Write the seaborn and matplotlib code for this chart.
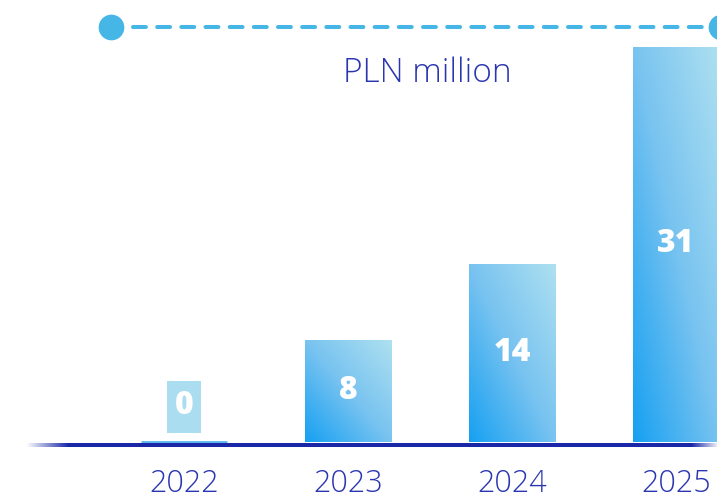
import numpy as np
import pandas as pd
import matplotlib
matplotlib.use("Agg")
import matplotlib.pyplot as plt
from matplotlib.colors import LinearSegmentedColormap, to_rgb
from matplotlib.patches import Rectangle
import seaborn as sns

# Chart data
years = ["2022", "2023", "2024", "2025"]
values = [0, 8, 14, 31]
unit_label = "PLN million"

sns.set_theme(style="white")
plt.rcParams["font.family"] = ["Open Sans", "DejaVu Sans"]

BAR_LOW = "#16A0F2"
BAR_MID = "#78C3F0"
BAR_HIGH = "#AEE0F0"
LINE_DARK = "#1A28A8"
ACCENT = "#45B6E6"
TEXT_BLUE = "#2A36B0"

bar_cmap = LinearSegmentedColormap.from_list(
    "bar_grad", [(0.0, BAR_LOW), (0.5, BAR_MID), (1.0, BAR_HIGH)]
)

fig = plt.figure(figsize=(7.17, 5.0), dpi=100)
ax = fig.add_axes([0.0, 0.10, 1.0, 0.90])

df = pd.DataFrame({"year": years, "value": values})
sns.barplot(data=df, x="year", y="value", ax=ax, width=0.53,
            color="white", linewidth=0, saturation=1)

# scale: 164 px per category step, 12.75 px per unit
ax.set_xlim(-184 / 164, (717 - 184) / 164)
ax.set_ylim(-8 / 12.75, 442 / 12.75)

# gradient fill inside each bar (bottom-left bright -> top-right pale)
for patch, v in zip(ax.patches, values):
    patch.set_facecolor("none")
    x0 = patch.get_x()
    w = patch.get_width()
    h = patch.get_height()
    if h <= 0:
        patch.set_edgecolor("#5BB5EE")
        patch.set_linewidth(2.0)
        patch.set_clip_on(False)
        continue
    n = 200
    u = np.linspace(0, 1, n)[None, :]
    s = np.linspace(0, 1, n)[:, None]
    t = (u + s) / 2.0
    im = ax.imshow(t, cmap=bar_cmap, vmin=0, vmax=1, origin="lower",
                   extent=[x0, x0 + w, 0, h], aspect="auto",
                   interpolation="bilinear", zorder=2)
    im.set_clip_path(patch)

# value labels
for i, v in enumerate(values):
    if v == 0:
        ax.add_patch(Rectangle((i - 0.1067, 0.706), 0.2134, 4.08,
                               facecolor="#ABDDF1", edgecolor="none", zorder=3))
        ax.text(i, 2.85, str(v), ha="center", va="center", color="white",
                fontsize=23, fontweight="heavy", zorder=4)
    else:
        ax.text(i, v / 2, str(v), ha="center", va="center", color="white",
                fontsize=23, fontweight="heavy", zorder=4)

# baseline with faded ends
xs = np.linspace(0, 1, 600)
alpha = np.clip(np.minimum(xs / 0.06, (1 - xs) / 0.04), 0, 1)
rgba = np.zeros((1, xs.size, 4))
rgba[..., :3] = to_rgb(LINE_DARK)
rgba[..., 3] = alpha
ax.imshow(rgba, extent=[(26 - 184) / 164, (720 - 184) / 164, -0.39, -0.08],
          aspect="auto", interpolation="bilinear", zorder=5)

# dashed header line with round end markers
y_head = (442 - 27) / 12.75
ax.plot([(133 - 184) / 164, (708 - 184) / 164], [y_head, y_head],
        color=ACCENT, lw=2.9, dashes=(3.2, 2.8), solid_capstyle="round",
        dash_capstyle="round", clip_on=False, zorder=5)
ax.plot([(111 - 184) / 164, (721 - 184) / 164], [y_head, y_head],
        linestyle="none", marker="o", markersize=18.5, color=ACCENT,
        markeredgewidth=0, clip_on=False, zorder=6)

ax.text((427 - 184) / 164, (442 - 82) / 12.75, unit_label, ha="center",
        va="baseline", color=TEXT_BLUE, fontsize=24, fontweight="light")

# axis styling
ax.set_xlabel("")
ax.set_ylabel("")
ax.set_yticks([])
ax.tick_params(axis="x", length=0, pad=13, labelsize=22, labelcolor=TEXT_BLUE)
for lbl in ax.get_xticklabels():
    lbl.set_fontweight("light")
for sp in ax.spines.values():
    sp.set_visible(False)
ax.set_facecolor("none")

fig.savefig("out.png", dpi=100)
